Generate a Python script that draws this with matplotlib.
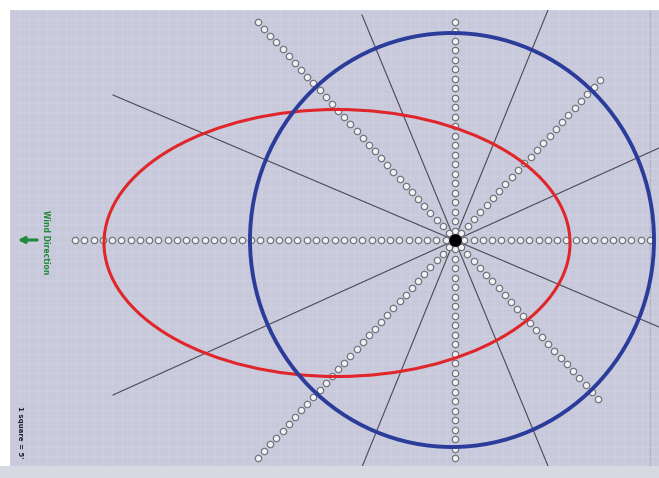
import matplotlib
matplotlib.use("Agg")
import matplotlib.pyplot as plt
import numpy as np
from matplotlib.patches import Ellipse, Rectangle

# source point (screen units)
src_x, src_y = 455, 240

# receptor rays: end point of each ray and number of receptors on it
ray_end_x = [75, 650, 455, 455, 258, 598, 600, 258]
ray_end_y = [240, 240, 22, 458, 22, 399, 80, 458]
ray_dots = [41, 21, 23, 23, 32, 23, 23, 32]

# sector boundary lines
line_x0 = [113, 113, 362, 362]
line_y0 = [95, 395, 15, 467]
line_x1 = [659, 659, 548, 548]
line_y1 = [327, 148, 466, 10]

# plume footprint (red) and impact zone (blue): centre x, centre y, width, height
plume = (337, 243, 466, 267)
zone = (452, 240, 404, 414)

fig = plt.figure(figsize=(6.59, 4.78), dpi=100)
fig.patch.set_facecolor("white")
fig.patches.append(Rectangle((0, 0), 1, 12 / 478, transform=fig.transFigure,
                             facecolor="#d8d8e2", edgecolor="none", zorder=0))

ax = fig.add_axes([10 / 659, 12 / 478, 649 / 659, 456 / 478])
ax.set_xlim(10, 659)
ax.set_ylim(466, 10)
ax.set_facecolor("#c8c9db")
for s in ax.spines.values():
    s.set_visible(False)

# fine background grid
ax.set_xticks(np.arange(10, 660, 9.3), minor=True)
ax.set_yticks(np.arange(10, 467, 9.3), minor=True)
ax.set_xticks([])
ax.set_yticks([])
ax.grid(which="minor", color="#d0d1e2", linewidth=0.5)
ax.tick_params(which="both", length=0, labelbottom=False, labelleft=False)
ax.axvline(650, color="#b4b5c6", linewidth=1.0, zorder=1)

for x0, y0, x1, y1 in zip(line_x0, line_y0, line_x1, line_y1):
    ax.plot([x0, x1], [y0, y1], color="#4a4a52", linewidth=0.8, zorder=2)

for ex, ey, n in zip(ray_end_x, ray_end_y, ray_dots):
    t = np.linspace(0, 1, n + 1)[1:]
    ax.plot(src_x + (ex - src_x) * t, src_y + (ey - src_y) * t, "o",
            markersize=4.6, markerfacecolor="#f2f2f6", markeredgecolor="#75757d",
            markeredgewidth=0.9, zorder=3)

ax.add_patch(Ellipse(plume[:2], plume[2], plume[3], fill=False,
                     edgecolor="#e0262a", linewidth=2.2, zorder=4))
ax.add_patch(Ellipse(zone[:2], zone[2], zone[3], fill=False,
                     edgecolor="#2c3c9a", linewidth=2.8, zorder=4))

ax.plot(src_x, src_y, "o", color="black", markersize=8, zorder=5)

# wind direction marker
ax.annotate("", xy=(15, 240), xytext=(40, 240),
            arrowprops=dict(arrowstyle="-|>", color="#1f8a3a", lw=2.2, mutation_scale=9),
            zorder=5)
ax.text(45, 242, "Wind Direction", rotation=-90, color="#1f8a3a", fontsize=5.5,
        fontweight="bold", ha="center", va="center", zorder=5)
ax.text(20, 432, "1 square = 5'", rotation=-90, color="#222226", fontsize=5,
        fontweight="bold", ha="center", va="center", zorder=5)

fig.savefig("out.png", dpi=100, facecolor=fig.get_facecolor())
